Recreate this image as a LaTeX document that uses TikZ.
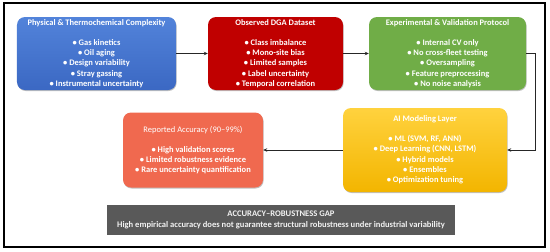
\documentclass[tikz,border=0pt]{standalone}
\usepackage{fontspec}
\setmainfont{Carlito}
\usetikzlibrary{arrows.meta,shadows}
\definecolor{bluetop}{HTML}{5283DA}
\definecolor{bluebot}{HTML}{3B68C3}
\definecolor{redbox}{HTML}{C00000}
\definecolor{greenbox}{HTML}{70AD47}
\definecolor{yeltop}{HTML}{FFD23E}
\definecolor{yelbot}{HTML}{F3B500}
\definecolor{salmon}{HTML}{F0694F}
\definecolor{gapgray}{HTML}{595959}
\definecolor{gaptext}{HTML}{F2F2F2}
\definecolor{lineblk}{HTML}{262626}
\begin{document}
\begin{tikzpicture}[x=1bp,y=-1bp,
  stagebox/.style={rectangle, rounded corners=8bp, inner sep=0pt, align=center,
    text=white, font=\bfseries\fontsize{8.5}{10.4}\selectfont,
    drop shadow={shadow xshift=0.6bp, shadow yshift=-1bp, opacity=0.25, fill=black}},
  gapbox/.style={rectangle, inner sep=0pt, align=center, fill=gapgray, text=gaptext,
    font=\bfseries\fontsize{8.6}{11}\selectfont},
  flow/.style={draw=lineblk, line width=1bp, -{Stealth[length=4bp,width=3.5bp]}}
]
\useasboundingbox (0,0) rectangle (550,251);
\draw[line width=1.5bp, black] (4,3) rectangle (545,247);

\node[stagebox, top color=bluetop, bottom color=bluebot, minimum width=159bp, minimum height=73bp]
  (b1) at (96.5,53.5) {Physical \& Thermochemical Complexity\\[9.6pt]
  • Gas kinetics\\ • Oil aging\\ • Design variability\\ • Stray gassing\\ • Instrumental uncertainty};

\node[stagebox, fill=redbox, minimum width=135bp, minimum height=73bp]
  (b2) at (275.5,53.5) {Observed DGA Dataset\\[9.6pt]
  • Class imbalance\\ • Mono-site bias\\ • Limited samples\\ • Label uncertainty\\ • Temporal correlation};

\node[stagebox, fill=greenbox, minimum width=157bp, minimum height=73bp]
  (b3) at (447.5,53.5) {Experimental \& Validation Protocol\\[9.6pt]
  • Internal CV only\\ • No cross-fleet testing\\ • Oversampling\\ • Feature preprocessing\\ • No noise analysis};

\node[stagebox, top color=yeltop, bottom color=yelbot, minimum width=164bp, minimum height=84bp]
  (b4) at (425,150) {AI Modeling Layer\\[9.6pt]
  • ML (SVM, RF, ANN)\\ • Deep Learning (CNN, LSTM)\\ • Hybrid models\\ • Ensembles\\ • Optimization tuning};

\node[stagebox, fill=salmon, minimum width=140bp, minimum height=75bp]
  (b5) at (193,150) {{\mdseries Reported Accuracy (90–99\%)}\\[9.6pt]
  • High validation scores\\ • Limited robustness evidence\\ • Rare uncertainty quantification};

\node[gapbox, minimum width=348bp, minimum height=30bp] (gap) at (281,219.5)
  {ACCURACY–ROBUSTNESS GAP\\ High empirical accuracy does not guarantee structural robustness under industrial variability};

\coordinate (c1) at (535,53.5);
\draw[flow] (b1.east) -- (b2.west);
\draw[flow] (b2.east) -- (b3.west);
\draw[flow] (b3.east) -- (c1) |- (b4.east);
\draw[flow] (b4.west) -- (b5.east);
\end{tikzpicture}
\end{document}
